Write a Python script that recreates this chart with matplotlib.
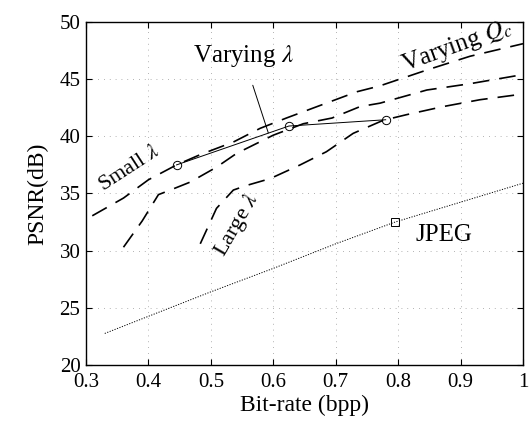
import matplotlib
matplotlib.use("Agg")
import matplotlib.pyplot as plt

# dashed curves (varying Q_c)
small_x = [0.31, 0.36, 0.40, 0.445, 0.483, 0.536, 0.579, 0.621, 0.675, 0.734, 0.77, 0.846, 0.915, 1.0]
small_y = [33.05, 34.6, 36.2, 37.5, 38.4, 39.5, 40.7, 41.6, 42.7, 43.9, 44.4, 45.8, 47.0, 48.1]

mid_x = [0.36, 0.39, 0.416, 0.435, 0.467, 0.509, 0.541, 0.6, 0.648, 0.694, 0.739, 0.771, 0.846, 0.915, 1.0]
mid_y = [30.3, 32.6, 34.9, 35.3, 36.0, 37.3, 38.5, 40.1, 41.1, 41.6, 42.6, 42.9, 44.05, 44.6, 45.4]

large_x = [0.483, 0.509, 0.536, 0.557, 0.595, 0.643, 0.685, 0.728, 0.776, 0.814, 0.872, 0.931, 1.0]
large_y = [30.6, 33.7, 35.3, 35.7, 36.3, 37.5, 38.65, 40.26, 41.4, 41.9, 42.6, 43.2, 43.7]

# varying lambda
lam_x = [0.445, 0.625, 0.78]
lam_y = [37.5, 40.9, 41.45]

# JPEG
jpeg_x = [0.33, 0.5, 0.6, 0.7, 0.795, 1.0]
jpeg_y = [22.76, 26.4, 28.45, 30.6, 32.5, 35.9]
jpeg_mark_x = [0.795]
jpeg_mark_y = [32.5]

xticks = [0.3, 0.4, 0.5, 0.6, 0.7, 0.8, 0.9, 1.0]
xticklabels = ["0.3", "0.4", "0.5", "0.6", "0.7", "0.8", "0.9", "1"]
yticks = [20, 25, 30, 35, 40, 45, 50]

plt.rcParams["font.family"] = ["Liberation Serif", "DejaVu Serif"]
plt.rcParams["mathtext.fontset"] = "stix"

fig = plt.figure(figsize=(5.3, 4.26), dpi=100)
ax = fig.add_axes([0.1623, 0.1432, 0.8245, 0.8052])

for xs, ys in [(small_x, small_y), (mid_x, mid_y), (large_x, large_y)]:
    ax.plot(xs, ys, color="black", lw=1.2, dashes=(10, 6))

ax.plot(lam_x, lam_y, color="black", lw=0.7, marker="o", ms=6,
        mfc="none", mec="black", mew=0.7)

ax.plot(jpeg_x, jpeg_y, color="black", lw=0.7, dashes=(1.2, 1.5))
ax.plot(jpeg_mark_x, jpeg_mark_y, ls="none", marker="s", ms=6,
        mfc="none", mec="black", mew=0.7)

ax.annotate(r"Varying $\lambda$", xy=(0.592, 40.3), xytext=(0.552, 47.0),
            ha="center", va="center", fontsize=18,
            arrowprops=dict(arrowstyle="-", color="black", lw=0.7,
                            shrinkA=10, shrinkB=0))
ax.text(0.37, 37.2, r"Small $\lambda$", rotation=33, ha="center", va="center", fontsize=16)
ax.text(0.541, 32.2, r"Large $\lambda$", rotation=60, ha="center", va="center", fontsize=16)
ax.text(0.894, 47.9, r"Varying $Q_c$", rotation=20, ha="center", va="center", fontsize=18)
ax.text(0.873, 31.4, "JPEG", ha="center", va="center", fontsize=18)

ax.set_xlim(0.3, 1.0)
ax.set_ylim(20, 50)
ax.set_xticks(xticks)
ax.set_xticklabels(xticklabels)
ax.set_yticks(yticks)
ax.tick_params(direction="in", top=True, right=True, labelsize=15, length=4)
ax.tick_params(axis="x", pad=6)
ax.tick_params(axis="y", pad=4)
ax.grid(True, color="#999999", lw=0.6, dashes=(1, 6))
for s in ax.spines.values():
    s.set_linewidth(1.0)

ax.set_xlabel("Bit-rate (bpp)", fontsize=17, labelpad=2)
ax.set_ylabel("PSNR(dB)", fontsize=17, labelpad=8)

fig.savefig("out.png", dpi=100)
